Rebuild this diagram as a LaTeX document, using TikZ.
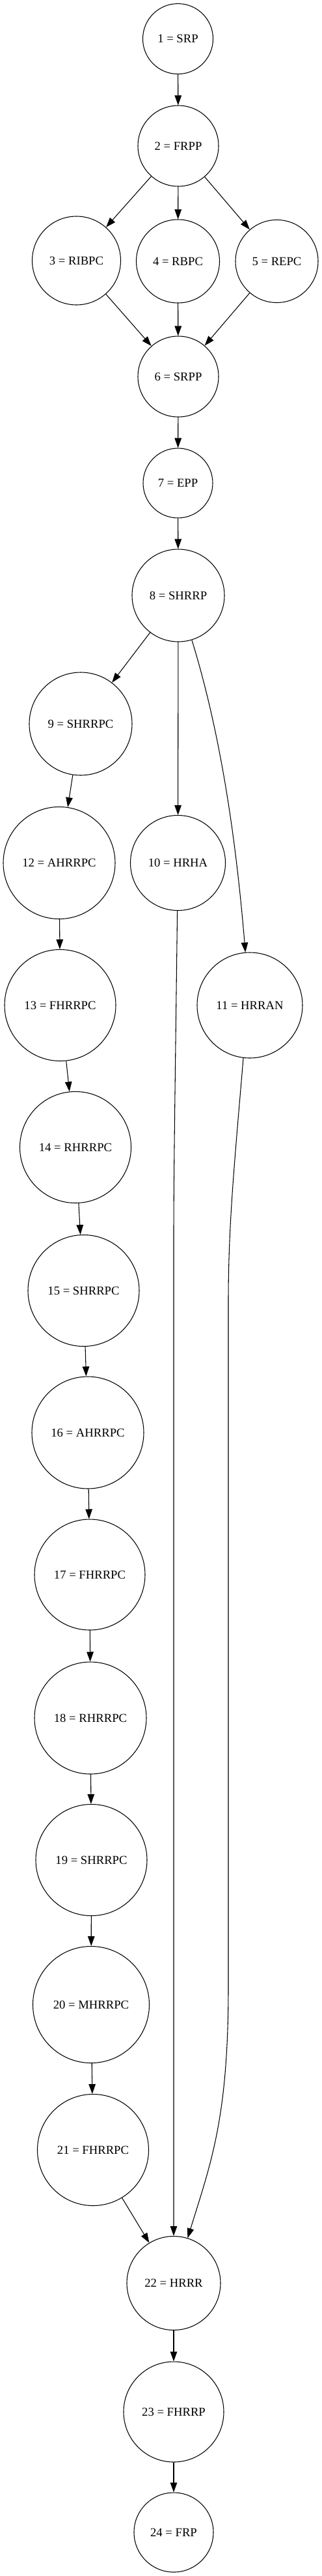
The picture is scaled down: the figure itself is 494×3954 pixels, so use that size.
\documentclass[tikz,border=0pt]{standalone}
\usepackage{fontspec}
\setmainfont{Liberation Serif}
\usetikzlibrary{arrows.meta}
\begin{document}
\begin{tikzpicture}[x=0.75pt,y=-0.75pt,
  nd/.style={circle,draw,line width=0.8pt,inner sep=0pt,minimum size=#1,font=\fontsize{14pt}{16pt}\selectfont},
  arr/.style={line width=0.8pt,-{Triangle[length=11.25pt,width=7.9pt]}}]
\useasboundingbox (0,0) rectangle (494,3954);
\node[nd=81pt]     (n1)  at (273.5,59.6)  {1 = SRP};
\node[nd=93pt]     (n2)  at (274,224)     {2 = FRPP};
\node[nd=102pt]    (n3)  at (117.5,400)   {3 = RIBPC};
\node[nd=96pt]     (n4)  at (273.5,401)   {4 = RBPC};
\node[nd=95.25pt]  (n5)  at (425.5,401)   {5 = REPC};
\node[nd=93pt]     (n6)  at (274,578)     {6 = SRPP};
\node[nd=80.25pt]  (n7)  at (273.5,741.5) {7 = EPP};
\node[nd=106.5pt]  (n8)  at (274,914)     {8 = SHRRP};
\node[nd=118.5pt]  (n9)  at (124,1111)    {9 = SHRRPC};
\node[nd=109.5pt]  (n10) at (273.5,1324.5) {10 = HRHA};
\node[nd=121.5pt]  (n11) at (384,1543)    {11 = HRRAN};
\node[nd=129pt]    (n12) at (91,1324.5)   {12 = AHRRPC};
\node[nd=128.25pt] (n13) at (92.5,1543)   {13 = FHRRPC};
\node[nd=128.25pt] (n14) at (116,1761)    {14 = RHRRPC};
\node[nd=128.25pt] (n15) at (128.5,1981)  {15 = SHRRPC};
\node[nd=129pt]    (n16) at (135,2199)    {16 = AHRRPC};
\node[nd=127.5pt]  (n17) at (138,2417)    {17 = FHRRPC};
\node[nd=129pt]    (n18) at (139,2637)    {18 = RHRRPC};
\node[nd=128.25pt] (n19) at (140.5,2855)  {19 = SHRRPC};
\node[nd=134.25pt] (n20) at (140,3077)    {20 = MHRRPC};
\node[nd=128.25pt] (n21) at (143,3300)    {21 = FHRRPC};
\node[nd=108pt]    (n22) at (267,3504.5)  {22 = HRRR};
\node[nd=115.5pt]  (n23) at (267,3702)    {23 = FHRRP};
\node[nd=91.5pt]   (n24) at (267,3887)    {24 = FRP};

\coordinate (k1) at (267,1900);
\coordinate (k2) at (351,2000);
\coordinate (k3) at (351,3050);

\draw[arr] (n1) -- (n2);
\draw[arr] (n2) -- (n3);
\draw[arr] (n2) -- (n4);
\draw[arr] (n2) -- (n5);
\draw[arr] (n3) -- (n6);
\draw[arr] (n4) -- (n6);
\draw[arr] (n5) -- (n6);
\draw[arr] (n6) -- (n7);
\draw[arr] (n7) -- (n8);
\draw[arr] (n8) -- (n9);
\draw[arr] (n8) -- (n10);
\draw[arr] (n8.-73) .. controls (342,1135) and (364,1303) .. (n11);
\draw[arr] (n9) -- (n12);
\draw[arr] (n12) -- (n13);
\draw[arr] (n13) -- (n14);
\draw[arr] (n14) -- (n15);
\draw[arr] (n15) -- (n16);
\draw[arr] (n16) -- (n17);
\draw[arr] (n17) -- (n18);
\draw[arr] (n18) -- (n19);
\draw[arr] (n19) -- (n20);
\draw[arr] (n20) -- (n21);
\draw[arr] (n21) -- (n22);
\draw[arr] (n10) .. controls (269.5,1650) and (267,1800) .. (k1) -- (n22);
\draw[arr] (n11.-97) .. controls (360,1790) and (351,1880) .. (k2) -- (k3) .. controls (351,3250) and (324.8,3318) .. (n22);
\draw[arr] (n22) -- (n23);
\draw[arr] (n23) -- (n24);
\end{tikzpicture}
\end{document}
